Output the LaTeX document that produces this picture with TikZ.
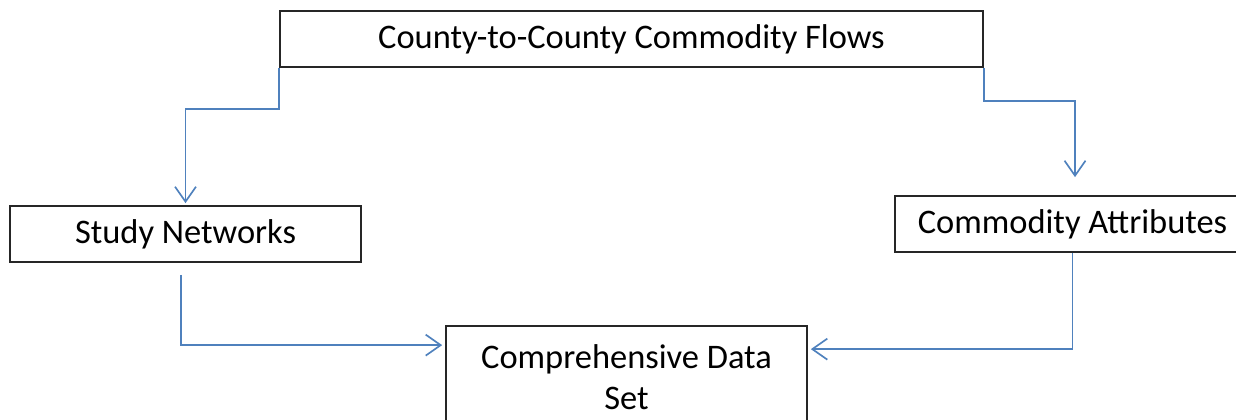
\documentclass[tikz,border=0pt]{standalone}
\usepackage{fontspec}
\setmainfont{Carlito}
\usetikzlibrary{arrows.meta}
\definecolor{bleu}{RGB}{79,129,189}

\begin{document}
\begin{tikzpicture}[x=0.02cm,y=-0.02cm]
\tikzstyle{fleche}=[-{Straight Barb[length=0.3cm,width=0.42cm]},draw=bleu,line width=0.95pt]
\tikzset{boite/.style={draw=black!85,line width=1pt,inner sep=0pt,font=\fontsize{19.6}{23.5}\selectfont,minimum height=#1},
boite/.default={1.12cm}}
\useasboundingbox (0,0) rectangle (1236,419);
\node[boite,minimum width=14.06cm] (flux) at (631.5,39) {County-to-County Commodity Flows};
\node[boite,minimum width=7.02cm] (etude) at (185.5,234) {Study Networks};
\node[boite,minimum width=7.1cm] (attr) at (1072.5,224) {Commodity Attributes};
\node[boite=2.06cm,minimum width=7.22cm,align=center] (donnees) at (626.5,377.5) {Comprehensive Data\\Set};

\draw[fleche,shorten >=0.04cm] (flux.south west) -- ++(0,41) -| (etude.north);
\draw[fleche,shorten >=0.36cm] (flux.south east) -- ++(0,33) -| ([xshift=0.05cm]attr.north);
\draw[fleche,shorten <=0.24cm,shorten >=0.06cm] ([xshift=-0.09cm]etude.south) |- ([yshift=-0.4cm]donnees.north west);
\draw[fleche,shorten >=0.06cm] (attr.south) |- ([yshift=-0.48cm]donnees.north east);

\end{tikzpicture}
\end{document}
